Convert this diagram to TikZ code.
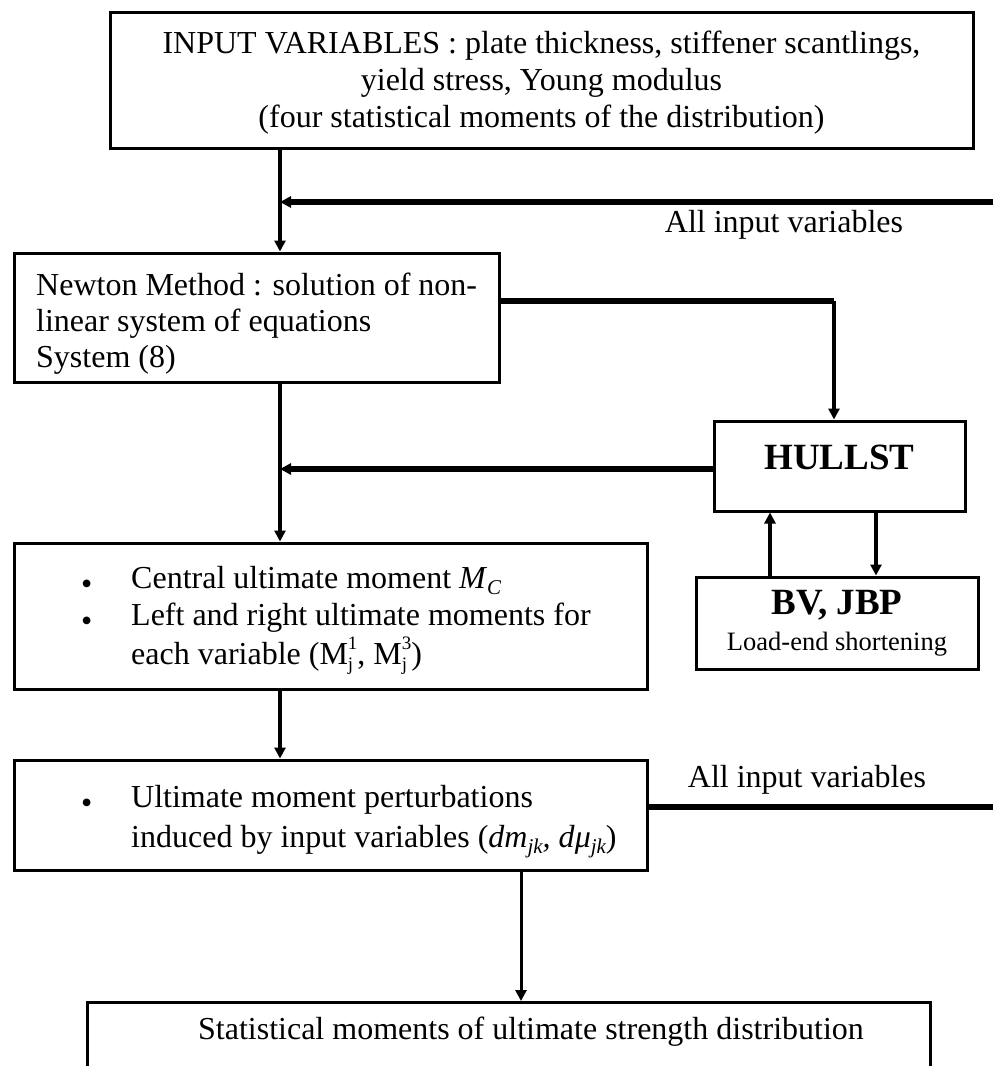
\documentclass[tikz,border=0pt]{standalone}
\usepackage{fontspec}
\setmainfont{Liberation Serif}
\usetikzlibrary{arrows.meta}
\newcommand{\bul}{\hspace{1pt}\raisebox{-6pt}{\fontsize{32}{32}\selectfont\textbullet}}
\newcommand{\sbs}[2]{\makebox[0pt][l]{\raisebox{-6pt}{\fontsize{19}{19}\selectfont #1}}\raisebox{15pt}{\fontsize{19}{19}\selectfont #2}}
\newcommand{\subx}[1]{\raisebox{-6pt}{\fontsize{21}{21}\selectfont\itshape #1}}
\begin{document}
\begin{tikzpicture}[x=1pt,y=-1pt,
  box/.style={draw, line width=3pt, inner sep=0pt},
  vline/.style={line width=4pt},
  hline/.style={line width=5.5pt},
  thinline/.style={line width=3pt},
  tip/.style={-{Triangle[length=11pt,width=11pt]}},
  txt/.style={inner sep=0pt},
  font=\fontsize{32}{37}\selectfont]
\useasboundingbox (0,0) rectangle (993,1066);
\clip (0,0) rectangle (993,1066);

% boxes
\node[box, minimum width=863pt, minimum height=136pt] (top) at (541.5,80) {};
\node[txt, align=center] (toptxt) at (541.5,83)
  {INPUT VARIABLES : plate thickness, stiffener scantlings,\\
   yield stress, Young modulus\\
   (four statistical moments of the distribution)};
\node[box, minimum width=485pt, minimum height=129pt] (newton) at (256.5,317.5) {};
\node[txt, anchor=west, align=left, font=\fontsize{32}{36}\selectfont] (newtontxt) at (36,324)
  {Newton Method : solution of non-\\linear system of equations\\System (8)};

\node[box, minimum width=251pt, minimum height=90pt, text height=24pt, text depth=18pt,
      font=\fontsize{37}{37}\selectfont\bfseries] (hullst) at (839.5,466) {HULLST};
\node[box, minimum width=282pt, minimum height=92pt, align=center,
      font=\fontsize{26.5}{36}\selectfont] (bv) at (837,623)
  {{\fontsize{37}{37}\selectfont\bfseries BV, JBP}\\Load-end shortening};

\node[box, minimum width=633pt, minimum height=146pt] (central) at (330.5,616) {};
\node[txt, anchor=west] (centraltxt) at (80,619)
  {\begin{tabular}{@{}p{51pt}@{}l@{}}
    \bul & Central ultimate moment \textit{M}\subx{C}\\
    \bul & Left and right ultimate moments for\\
         & each variable (M\sbs{j}{1}, M\sbs{j}{3})
   \end{tabular}};

\node[box, minimum width=633pt, minimum height=110pt] (pert) at (330.5,815) {};
\node[txt, anchor=west] (perttxt) at (80,820)
  {\begin{tabular}{@{}p{51pt}@{}l@{}}
    \bul & Ultimate moment perturbations\\[3pt]
         & induced by input variables (\textit{dm}\subx{jk}\textit{, d}{\itshape μ}\subx{jk})
   \end{tabular}};

\node[box, minimum width=843pt, minimum height=140pt, anchor=north] (final) at (508.5,1001) {};
\node[txt] (finaltxt) at (531,1032) {Statistical moments of ultimate strength distribution};

% labels
\node[txt] (lab1) at (784,225) {All input variables};
\node[txt] (lab2) at (807,780) {All input variables};

% coordinates
\coordinate (xa) at (280,0);
\coordinate (in1) at (993,202);
\coordinate (j1) at (280,202);
\coordinate (c1) at (834,301);
\coordinate (j2) at (280,469);
\coordinate (in2) at (993,807);
\coordinate (b1) at (770,0);
\coordinate (b2) at (876,0);
\coordinate (xf) at (521,0);

% connectors
\draw[vline, tip] (top.south -| xa) -- (newton.north -| xa);
\draw[hline, tip] (in1) -- (j1);
\draw[hline] (newton.east |- c1) -- (c1);
\draw[vline, tip] (c1) -- (hullst.north -| c1);
\draw[hline, tip] (hullst.west |- j2) -- (j2);
\draw[vline, tip] (newton.south -| xa) -- (central.north -| xa);
\draw[vline, tip] (bv.north -| b1) -- (hullst.south -| b1);
\draw[vline, tip] (hullst.south -| b2) -- (bv.north -| b2);
\draw[vline, tip] (central.south -| xa) -- (pert.north -| xa);
\draw[hline] (pert.east |- in2) -- (in2);
\draw[thinline, tip] (pert.south -| xf) -- (final.north -| xf);
\end{tikzpicture}
\end{document}
